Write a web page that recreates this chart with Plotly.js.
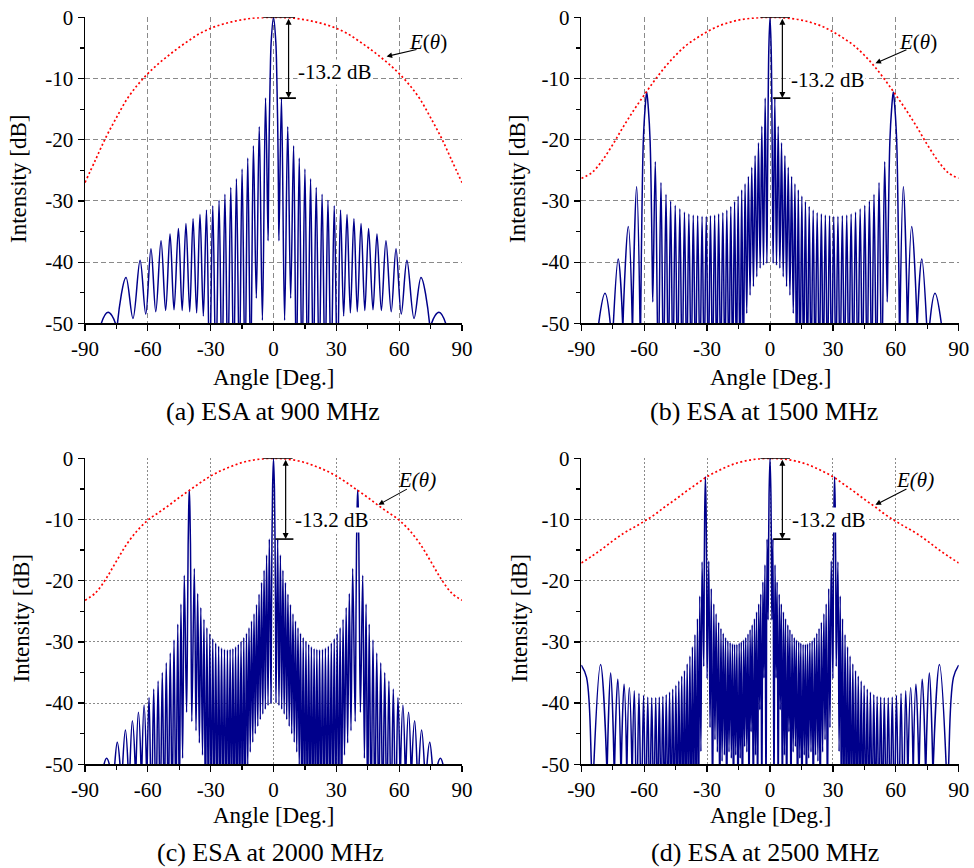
<!DOCTYPE html>
<html>
<head>
<meta charset="utf-8">
<script src="https://cdn.plot.ly/plotly-3.0.1.min.js"></script>
<style>
  html, body { margin: 0; padding: 0; background: #ffffff; }
  #chart { width: 974px; height: 868px; }
</style>
</head>
<body>
<div id="chart"></div>
<script>
// Array-factor intensity of the ESA, key points along each curve: [angle (deg), level (dB)].
// Lobe tops, nulls, lobe flanks and lobe feet at the -50 dB floor; the spline joins them.
const pattern900 = [
  [-90,-70],[-85.5,-62],[-82.2,-50],[-79.0,-48.2],[-75.5,-50],[-75.0,-60],[-74.5,-50],[-70.4,-42.5],
  [-67.1,-49.2],[-63.7,-39.7],[-61.0,-48.5],[-58.5,-37.8],[-56.2,-48.1],[-53.7,-36.5],[-51.5,-47.9],
  [-49.4,-35.4],[-47.5,-47.8],[-45.4,-34.5],[-43.6,-47.9],[-41.8,-33.7],[-40.0,-48.1],[-38.4,-32.9],
  [-36.7,-48.3],[-35.1,-32.2],[-33.5,-48.8],[-32.0,-31.5],[-30.5,-58],[-29.0,-30.8],[-27.5,-58],
  [-26.0,-29.9],[-24.6,-58],[-23.2,-28.9],[-21.8,-58],[-20.4,-27.8],[-19.0,-58],[-17.7,-26.4],
  [-16.3,-58],[-15.0,-24.8],[-13.6,-58],[-12.3,-23.0],[-10.9,-58],[-9.6,-21.0],[-8.2,-45.9],
  [-6.8,-17.9],[-5.3,-49.5],[-3.8,-13.2],[-2.6,-36.5],[-2.4,-30],[-2.1,-20],[-1.6,-10],[-1.1,-4],
  [0,0],
  [1.1,-4],[1.6,-10],[2.1,-20],[2.4,-30],[2.6,-36.5],[3.8,-13.2],[5.3,-49.5],[6.8,-17.9],[8.2,-45.9],
  [9.6,-21.0],[10.9,-58],[12.3,-23.0],[13.6,-58],[15.0,-24.8],[16.3,-58],[17.7,-26.4],[19.0,-58],
  [20.4,-27.8],[21.8,-58],[23.2,-28.9],[24.6,-58],[26.0,-29.9],[27.5,-58],[29.0,-30.8],[30.5,-58],
  [32.0,-31.5],[33.5,-48.8],[35.1,-32.2],[36.7,-48.3],[38.4,-32.9],[40.0,-48.1],[41.8,-33.7],
  [43.6,-47.9],[45.4,-34.5],[47.5,-47.8],[49.4,-35.4],[51.5,-47.9],[53.7,-36.5],[56.2,-48.1],
  [58.5,-37.8],[61.0,-48.5],[63.7,-39.7],[67.1,-49.2],[70.4,-42.5],[74.5,-50],[75.0,-60],[75.5,-50],
  [79.0,-48.2],[82.2,-50],[85.5,-62],[90,-70]
];

const pattern1500 = [
  [-90,-70],[-84.0,-62],[-81.7,-50],[-78.7,-45.1],[-76.2,-50],[-75.5,-60],[-74.7,-50],[-72.4,-39.5],
  [-70.3,-50],[-70.2,-60],[-70.1,-50],[-67.6,-34.2],[-65.7,-50],[-65.6,-60],[-65.5,-50],[-63.6,-27.7],
  [-62.0,-50],[-61.85,-60],[-61.7,-50],[-61.0,-30],[-60.4,-20],[-59.6,-15],[-58.8,-12.2],[-58.0,-15],
  [-57.2,-20],[-56.6,-30],[-56.2,-40],[-55.9,-46.5],[-54.7,-23.6],[-53.3,-58],[-52.0,-27.0],
  [-50.8,-58],[-49.6,-28.9],[-48.5,-58],[-47.4,-30.0],[-46.3,-58],[-45.2,-30.7],[-44.1,-58],[-43.0,-31.3],
  [-41.9,-58],[-40.8,-31.8],[-39.7,-58],[-38.7,-32.1],[-37.6,-58],[-36.6,-32.3],[-35.5,-58],[-34.5,-32.4],
  [-33.4,-58],[-32.4,-32.5],[-31.4,-58],[-30.4,-32.5],[-29.4,-58],[-28.4,-32.4],[-27.4,-58],[-26.4,-32.3],
  [-25.4,-58],[-24.5,-32.1],[-23.5,-58],[-22.5,-31.9],[-21.5,-58],[-20.6,-31.5],[-19.6,-58],[-18.7,-30.9],
  [-17.8,-58],[-16.9,-30.1],[-16.0,-58],[-15.2,-29.2],[-14.3,-58],[-13.5,-28.2],[-12.7,-58],[-11.9,-27.2],
  [-11.1,-48.4],[-10.3,-26.0],[-9.5,-45.4],[-8.7,-24.5],[-7.9,-44.0],[-7.1,-22.6],[-6.3,-42.4],
  [-5.5,-20.5],[-4.7,-41.0],[-3.9,-17.8],[-3.1,-40.5],[-2.3,-13.2],[-1.5,-40.2],[-1.2,-28],[-0.9,-15],
  [-0.55,-5],
  [0,0],
  [0.55,-5],[0.9,-15],[1.2,-28],[1.5,-40.2],[2.3,-13.2],[3.1,-40.5],[3.9,-17.8],[4.7,-41.0],[5.5,-20.5],
  [6.3,-42.4],[7.1,-22.6],[7.9,-44.0],[8.7,-24.5],[9.5,-45.4],[10.3,-26.0],[11.1,-48.4],[11.9,-27.2],
  [12.7,-58],[13.5,-28.2],[14.3,-58],[15.2,-29.2],[16.0,-58],[16.9,-30.1],[17.8,-58],[18.7,-30.9],
  [19.6,-58],[20.6,-31.5],[21.5,-58],[22.5,-31.9],[23.5,-58],[24.5,-32.1],[25.4,-58],[26.4,-32.3],
  [27.4,-58],[28.4,-32.4],[29.4,-58],[30.4,-32.5],[31.4,-58],[32.4,-32.5],[33.4,-58],[34.5,-32.4],
  [35.5,-58],[36.6,-32.3],[37.6,-58],[38.7,-32.1],[39.7,-58],[40.8,-31.8],[41.9,-58],[43.0,-31.3],
  [44.1,-58],[45.2,-30.7],[46.3,-58],[47.4,-30.0],[48.5,-58],[49.6,-28.9],[50.8,-58],[52.0,-27.0],
  [53.3,-58],[54.7,-23.6],[55.9,-46.5],[56.2,-40],[56.6,-30],[57.2,-20],[58.0,-15],[58.8,-12.2],
  [59.6,-15],[60.4,-20],[61.0,-30],[61.7,-50],[61.85,-60],[62.0,-50],[63.6,-27.7],
  [65.5,-50],[65.6,-60],[65.7,-50],[67.6,-34.2],[70.1,-50],[70.2,-60],[70.3,-50],[72.4,-39.5],
  [74.7,-50],[75.5,-60],[76.2,-50],[78.7,-45.1],[81.7,-50],[84.0,-62],[90,-70]
];

const pattern2000 = [
  [-90,-70],[-83.0,-62],[-80.9,-50],[-79.7,-49.0],[-78.4,-50],[-77.0,-60],[-75.8,-50],[-74.6,-46.4],
  [-73.3,-50],[-72.6,-60],[-72.0,-50],[-70.7,-44.4],[-69.5,-50],[-69.0,-60],[-68.5,-50],[-67.4,-42.9],
  [-66.1,-50],[-65.85,-60],[-65.6,-50],[-64.5,-41.5],[-63.3,-50],[-63.05,-60],[-62.8,-50],[-61.8,-40.3],
  [-60.7,-50],[-60.5,-60],[-60.3,-50],[-59.4,-39.1],[-58.3,-58],[-57.2,-37.7],[-56.15,-58],[-55.1,-36.4],
  [-54.1,-58],[-53.1,-35.0],[-52.15,-58],[-51.2,-33.4],[-50.25,-58],[-49.3,-31.8],[-48.4,-58],
  [-47.5,-29.7],[-46.6,-58],[-45.7,-27.1],[-44.95,-58],[-44.2,-23.8],[-43.4,-49.0],[-42.6,-19.1],
  [-41.5,-41.5],[-41.0,-25],[-40.75,-14],[-40.5,-8.5],[-40.2,-5.2],[-39.9,-8.5],[-39.65,-14],[-39.4,-25],
  [-39.0,-43.0],[-37.8,-18.0],[-37.0,-44.5],[-36.2,-22.1],[-35.4,-46.5],
  [-34.7,-24.4],[-33.9,-48.5],[-33.2,-26.3],[-32.5,-58],[-31.8,-27.7],[-31.1,-58],[-30.4,-28.7],
  [-29.7,-58],[-29.0,-29.5],[-28.3,-58],[-27.6,-30.2],[-26.9,-58],[-26.2,-30.7],[-25.5,-58],[-24.8,-31.0],
  [-24.1,-58],[-23.4,-31.2],[-22.7,-58],[-22.0,-31.3],[-21.35,-58],[-20.7,-31.2],[-20.05,-58],
  [-19.4,-31.1],[-18.75,-58],[-18.1,-30.8],[-17.45,-58],[-16.8,-30.4],[-16.15,-58],[-15.5,-29.9],
  [-14.85,-58],[-14.2,-29.3],[-13.55,-58],[-12.9,-28.6],[-12.3,-50.5],[-11.7,-27.7],[-11.1,-48.0],
  [-10.5,-26.6],[-9.9,-46.4],[-9.3,-25.4],[-8.7,-45.0],[-8.1,-23.9],[-7.5,-43.8],[-6.9,-22.2],
  [-6.3,-42.7],[-5.7,-20.3],[-5.1,-41.8],[-4.5,-18.3],[-3.9,-41.0],[-3.3,-15.8],[-2.6,-40.4],
  [-2.0,-13.2],[-1.2,-40.0],[-1.0,-28],[-0.75,-14],[-0.45,-5],
  [0,0],
  [0.45,-5],[0.75,-14],[1.0,-28],[1.2,-40.0],[2.0,-13.2],[2.6,-40.4],[3.3,-15.8],[3.9,-41.0],
  [4.5,-18.3],[5.1,-41.8],[5.7,-20.3],[6.3,-42.7],[6.9,-22.2],[7.5,-43.8],[8.1,-23.9],[8.7,-45.0],
  [9.3,-25.4],[9.9,-46.4],[10.5,-26.6],[11.1,-48.0],[11.7,-27.7],[12.3,-50.5],[12.9,-28.6],[13.55,-58],
  [14.2,-29.3],[14.85,-58],[15.5,-29.9],[16.15,-58],[16.8,-30.4],[17.45,-58],[18.1,-30.8],[18.75,-58],
  [19.4,-31.1],[20.05,-58],[20.7,-31.2],[21.35,-58],[22.0,-31.3],[22.7,-58],[23.4,-31.2],[24.1,-58],
  [24.8,-31.0],[25.5,-58],[26.2,-30.7],[26.9,-58],[27.6,-30.2],[28.3,-58],[29.0,-29.5],[29.7,-58],
  [30.4,-28.7],[31.1,-58],[31.8,-27.7],[32.5,-58],[33.2,-26.3],[33.9,-48.5],[34.7,-24.4],[35.4,-46.5],
  [36.2,-22.1],[37.0,-44.5],[37.8,-18.0],[39.0,-43.0],[39.4,-25],[39.65,-14],[39.9,-8.5],[40.2,-5.2],
  [40.5,-8.5],[40.75,-14],[41.0,-25],[41.5,-41.5],[42.6,-19.1],
  [43.4,-49.0],[44.2,-23.8],[44.95,-58],[45.7,-27.1],[46.6,-58],[47.5,-29.7],[48.4,-58],[49.3,-31.8],
  [50.25,-58],[51.2,-33.4],[52.15,-58],[53.1,-35.0],[54.1,-58],[55.1,-36.4],[56.15,-58],[57.2,-37.7],
  [58.3,-58],[59.4,-39.1],[60.3,-50],[60.5,-60],[60.7,-50],[61.8,-40.3],[62.8,-50],[63.05,-60],
  [63.3,-50],[64.5,-41.5],[65.6,-50],[65.85,-60],[66.1,-50],[67.4,-42.9],[68.5,-50],[69.0,-60],
  [69.5,-50],[70.7,-44.4],[72.0,-50],[72.6,-60],[73.3,-50],[74.6,-46.4],[75.8,-50],[77.0,-60],
  [78.4,-50],[79.7,-49.0],[80.9,-50],[83.0,-62],[90,-70]
];

const pattern2500 = [
  [-90,-33.8],[-87.5,-35.8],[-85.2,-50],[-84.6,-62],[-84.0,-50],[-80.8,-33.7],[-77.9,-50],[-77.75,-62],
  [-77.6,-50],[-76.0,-35.1],[-74.4,-50],[-74.25,-62],[-74.1,-50],[-72.6,-36.1],[-71.2,-50],[-71.05,-62],
  [-70.9,-50],[-69.6,-36.9],[-68.4,-50],[-68.3,-62],[-68.2,-50],[-67.1,-37.5],[-65.9,-50],[-65.75,-62],
  [-65.6,-50],[-64.7,-38.0],[-63.6,-58],[-62.5,-38.4],[-61.4,-58],[-60.3,-38.7],[-59.3,-58],[-58.3,-39.0],
  [-57.35,-58],[-56.4,-39.1],[-55.45,-58],[-54.5,-39.1],[-53.65,-58],[-52.8,-39.0],[-51.95,-58],
  [-51.1,-38.9],[-50.3,-58],[-49.5,-38.6],[-48.7,-58],[-47.9,-38.2],[-47.15,-58],[-46.4,-37.7],
  [-45.65,-58],[-44.9,-37.1],[-44.2,-58],[-43.5,-36.4],[-42.8,-58],[-42.1,-35.6],[-41.45,-58],
  [-40.8,-34.7],[-40.15,-58],[-39.5,-33.6],[-38.85,-58],[-38.2,-32.3],[-37.6,-58],[-37.0,-30.8],
  [-36.4,-58],[-35.8,-28.8],[-35.2,-58],[-34.6,-26.2],[-34.05,-58],[-33.5,-22.5],[-32.95,-47.9],
  [-32.4,-16.9],[-31.6,-34.0],[-31.35,-18],[-31.15,-9],[-30.8,-3.0],[-30.45,-9],[-30.25,-18],
  [-30.0,-36.0],[-29.2,-16.8],[-28.6,-44.0],[-28.0,-21.3],
  [-27.4,-58],[-26.8,-23.8],[-26.25,-46.0],[-25.7,-25.4],[-25.1,-48.0],[-24.5,-26.8],[-23.95,-58],
  [-23.4,-27.8],[-22.85,-49.5],[-22.3,-28.6],[-21.75,-48.5],[-21.2,-29.3],[-20.65,-58],[-20.1,-29.8],
  [-19.55,-48.0],[-19.0,-30.1],[-18.45,-49.0],[-17.9,-30.3],[-17.4,-58],[-16.9,-30.4],[-16.35,-48.5],
  [-15.8,-30.4],[-15.25,-58],[-14.7,-30.2],[-14.2,-49.0],[-13.7,-30.0],[-13.15,-58],[-12.6,-29.7],
  [-12.1,-47.1],[-11.6,-29.3],[-11.05,-48.0],[-10.5,-28.7],[-10.0,-58],[-9.5,-28.0],[-9.0,-44.7],
  [-8.5,-27.2],[-7.95,-58],[-7.4,-26.2],[-6.9,-48.5],[-6.4,-25.1],[-5.9,-58],[-5.4,-23.8],[-4.9,-41.1],
  [-4.4,-22.2],[-3.9,-58],[-3.4,-20.2],[-2.9,-35.9],[-2.4,-17.4],[-1.9,-58],[-1.4,-13.2],[-0.9,-26.4],
  [-0.7,-17],[-0.45,-6],
  [0,0],
  [0.45,-6],[0.7,-17],[0.9,-26.4],[1.4,-13.2],[1.9,-58],[2.4,-17.4],[2.9,-35.9],[3.4,-20.2],[3.9,-58],
  [4.4,-22.2],[4.9,-41.1],[5.4,-23.8],[5.9,-58],[6.4,-25.1],[6.9,-48.5],[7.4,-26.2],[7.95,-58],
  [8.5,-27.2],[9.0,-44.7],[9.5,-28.0],[10.0,-58],[10.5,-28.7],[11.05,-48.0],[11.6,-29.3],[12.1,-47.1],
  [12.6,-29.7],[13.15,-58],[13.7,-30.0],[14.2,-49.0],[14.7,-30.2],[15.25,-58],[15.8,-30.4],[16.35,-48.5],
  [16.9,-30.4],[17.4,-58],[17.9,-30.3],[18.45,-49.0],[19.0,-30.1],[19.55,-48.0],[20.1,-29.8],
  [20.65,-58],[21.2,-29.3],[21.75,-48.5],[22.3,-28.6],[22.85,-49.5],[23.4,-27.8],[23.95,-58],
  [24.5,-26.8],[25.1,-48.0],[25.7,-25.4],[26.25,-46.0],[26.8,-23.8],[27.4,-58],[28.0,-21.3],
  [28.6,-44.0],[29.2,-16.8],[30.0,-36.0],[30.25,-18],[30.45,-9],[30.8,-3.0],[31.15,-9],[31.35,-18],
  [31.6,-34.0],[32.4,-16.9],[32.95,-47.9],
  [33.5,-22.5],[34.05,-58],[34.6,-26.2],[35.2,-58],[35.8,-28.8],[36.4,-58],[37.0,-30.8],[37.6,-58],
  [38.2,-32.3],[38.85,-58],[39.5,-33.6],[40.15,-58],[40.8,-34.7],[41.45,-58],[42.1,-35.6],[42.8,-58],
  [43.5,-36.4],[44.2,-58],[44.9,-37.1],[45.65,-58],[46.4,-37.7],[47.15,-58],[47.9,-38.2],[48.7,-58],
  [49.5,-38.6],[50.3,-58],[51.1,-38.9],[51.95,-58],[52.8,-39.0],[53.65,-58],[54.5,-39.1],[55.45,-58],
  [56.4,-39.1],[57.35,-58],[58.3,-39.0],[59.3,-58],[60.3,-38.7],[61.4,-58],[62.5,-38.4],[63.6,-58],
  [64.7,-38.0],[65.6,-50],[65.75,-62],[65.9,-50],[67.1,-37.5],[68.2,-50],[68.3,-62],[68.4,-50],
  [69.6,-36.9],[70.9,-50],[71.05,-62],[71.2,-50],[72.6,-36.1],[74.1,-50],[74.25,-62],[74.4,-50],
  [76.0,-35.1],[77.6,-50],[77.75,-62],[77.9,-50],[80.8,-33.7],[84.0,-50],[84.6,-62],[85.2,-50],
  [87.5,-35.8],[90,-33.8]
];

// Element pattern E(theta) in dB, [angle (deg), level (dB)]
const element900 = [
  [-90,-27.0],[-85,-23.3],[-80,-19.6],[-75,-16.4],[-70,-13.4],[-65,-11.1],[-60,-9.2],[-55,-7.6],
  [-50,-6.2],[-45,-4.9],[-40,-3.7],[-35,-2.6],[-30,-1.8],[-25,-1.2],[-20,-0.75],[-15,-0.4],[-10,-0.15],
  [-5,-0.04],[0,0],[5,-0.04],[10,-0.15],[15,-0.4],[20,-0.75],[25,-1.2],[30,-1.8],[35,-2.6],[40,-3.7],
  [45,-4.9],[50,-6.2],[55,-7.6],[60,-9.2],[65,-11.1],[70,-13.4],[75,-16.4],[80,-19.6],[85,-23.3],[90,-27.0]
];
const element1500 = [
  [-90,-26.3],[-85,-25.4],[-80,-23.4],[-75,-20.8],[-70,-17.9],[-65,-15.2],[-60,-12.7],[-55,-10.3],
  [-50,-8.1],[-45,-6.2],[-40,-4.6],[-35,-3.4],[-30,-2.35],[-25,-1.5],[-20,-0.9],[-15,-0.45],[-10,-0.2],
  [-5,-0.05],[0,0],[5,-0.05],[10,-0.2],[15,-0.45],[20,-0.9],[25,-1.5],[30,-2.35],[35,-3.4],[40,-4.6],
  [45,-6.2],[50,-8.1],[55,-10.3],[60,-12.7],[65,-15.2],[70,-17.9],[75,-20.8],[80,-23.4],[85,-25.4],[90,-26.3]
];
const element2000 = [
  [-90,-23.2],[-85,-22.0],[-80,-19.7],[-75,-16.8],[-70,-14.0],[-65,-11.8],[-60,-10.1],[-55,-8.9],
  [-50,-7.7],[-45,-6.4],[-40,-5.2],[-35,-4.0],[-30,-2.9],[-25,-2.0],[-20,-1.3],[-15,-0.7],[-10,-0.3],
  [-5,-0.08],[0,0],[5,-0.08],[10,-0.3],[15,-0.7],[20,-1.3],[25,-2.0],[30,-2.9],[35,-4.0],[40,-5.2],
  [45,-6.4],[50,-7.7],[55,-8.9],[60,-10.1],[65,-11.8],[70,-14.0],[75,-16.8],[80,-19.7],[85,-22.0],[90,-23.2]
];
const element2500 = [
  [-90,-17.1],[-85,-16.0],[-80,-14.8],[-75,-13.5],[-70,-12.3],[-65,-11.3],[-60,-10.3],[-55,-9.2],
  [-50,-7.9],[-45,-6.7],[-40,-5.4],[-35,-4.2],[-30,-3.0],[-25,-2.1],[-20,-1.3],[-15,-0.7],[-10,-0.3],
  [-5,-0.08],[0,0],[5,-0.08],[10,-0.3],[15,-0.7],[20,-1.3],[25,-2.1],[30,-3.0],[35,-4.2],[40,-5.4],
  [45,-6.7],[50,-7.9],[55,-9.2],[60,-10.3],[65,-11.3],[70,-12.3],[75,-13.5],[80,-14.8],[85,-16.0],[90,-17.1]
];

const captions = ['(a) ESA at 900 MHz', '(b) ESA at 1500 MHz', '(c) ESA at 2000 MHz', '(d) ESA at 2500 MHz'];
const xTickVals = [-90, -60, -30, 0, 30, 60, 90];
const xTickText = ['-90', '-60', '-30', '0', '30', '60', '90'];
const yTickVals = [-50, -40, -30, -20, -10, 0];
const yTickText = ['-50', '-40', '-30', '-20', '-10', '0'];
const sidelobeDb = -13.2;   // first side-lobe level relative to the main beam

const FONT = "'Liberation Serif', 'Times New Roman', Times, serif";
const W = 974, H = 868;
const px = v => v / W;
const py = v => 1 - v / H;

// Per-panel placement (pixel frame of each plot area and the marker geometry in data units)
const panels = [
  { pattern: pattern900, element: element900, x0: 85, x1: 462, y0: 17.3, y1: 323.3, grid: '5px,3px',
    top: [-4.9, 10.3], low: [2.8, 10.7], arrowX: 7.2, lbl: [11.0, -9.0],
    eTxt: [73.9, -4.0], eFrom: [69.0, -5.2], eTo: [54.0, -6.4], eAllItalic: false,
    titleX: 273.5, titleY: 377, ylabX: 18, ylabY: 179, capX: 273, capY: 411 },
  { pattern: pattern1500, element: element1500, x0: 581.3, x1: 958.7, y0: 17.3, y1: 323.3, grid: '5px,3px',
    top: [-4.6, 9.5], low: [1.5, 9.7], arrowX: 5.9, lbl: [9.7, -10.2],
    eTxt: [70.7, -4.0], eFrom: [65.8, -5.2], eTo: [50.3, -7.5], eAllItalic: false,
    titleX: 770, titleY: 377, ylabX: 517, ylabY: 179, capX: 764, capY: 411 },
  { pattern: pattern2000, element: element2000, x0: 85, x1: 462, y0: 458.3, y1: 764.3, grid: '2px,2px',
    top: [-4.9, 9.1], low: [0.9, 9.5], arrowX: 5.8, lbl: [9.8, -10.0],
    eTxt: [68.7, -3.5], eFrom: [64.4, -4.9], eTo: [50.1, -7.6], eAllItalic: true,
    titleX: 273.5, titleY: 815, ylabX: 20.5, ylabY: 619, capX: 270, capY: 852 },
  { pattern: pattern2500, element: element2500, x0: 581.3, x1: 958.7, y0: 458.3, y1: 764.3, grid: '2px,2px',
    top: [-4.6, 9.5], low: [1.5, 9.7], arrowX: 5.9, lbl: [10.0, -10.1],
    eTxt: [69.0, -3.5], eFrom: [65.8, -4.9], eTo: [50.3, -7.6], eAllItalic: true,
    titleX: 770, titleY: 815, ylabX: 518.5, ylabY: 619, capX: 764.5, capY: 852 }
];

const traces = [];
const shapes = [];
const annotations = [];
const layout = {
  width: W, height: H,
  margin: { l: 0, r: 0, t: 0, b: 0 },
  paper_bgcolor: '#ffffff', plot_bgcolor: '#ffffff',
  showlegend: false,
  font: { family: FONT, color: '#000000' }
};

panels.forEach((p, i) => {
  const s = i === 0 ? '' : String(i + 1);
  const xa = 'x' + s, ya = 'y' + s;

  traces.push({
    type: 'scatter', mode: 'lines', xaxis: xa, yaxis: ya, hoverinfo: 'skip',
    x: p.pattern.map(d => d[0]), y: p.pattern.map(d => d[1]),
    line: { color: '#00008b', width: 1.5, shape: 'spline', smoothing: 1 }
  });
  traces.push({
    type: 'scatter', mode: 'lines', xaxis: xa, yaxis: ya, hoverinfo: 'skip',
    x: p.element.map(d => d[0]), y: p.element.map(d => d[1]),
    line: { color: '#ff0000', width: 1.7, dash: '2px,2.5px', shape: 'spline', smoothing: 1 }
  });

  layout['xaxis' + s] = {
    domain: [px(p.x0), px(p.x1)], anchor: ya, range: [-90, 90],
    tickmode: 'array', tickvals: xTickVals, ticktext: xTickText,
    ticks: 'outside', ticklen: 6, tickwidth: 1.2, tickcolor: '#000',
    minor: { tickmode: 'linear', tick0: -90, dtick: 15, ticks: 'outside', ticklen: 4, tickwidth: 1.2, tickcolor: '#000', showgrid: false },
    showline: true, linecolor: '#000', linewidth: 1.5,
    showgrid: true, gridcolor: '#8a8a8a', gridwidth: 1, griddash: p.grid,
    zeroline: false, fixedrange: true,
    tickfont: { family: FONT, size: 21, color: '#000' }
  };
  layout['yaxis' + s] = {
    domain: [py(p.y1), py(p.y0)], anchor: xa, range: [-50, 0],
    tickmode: 'array', tickvals: yTickVals, ticktext: yTickText,
    ticks: 'outside', ticklen: 6, tickwidth: 1.2, tickcolor: '#000',
    minor: { tickmode: 'linear', tick0: -50, dtick: 5, ticks: 'outside', ticklen: 4, tickwidth: 1.2, tickcolor: '#000', showgrid: false },
    showline: true, linecolor: '#000', linewidth: 1.5,
    showgrid: true, gridcolor: '#8a8a8a', gridwidth: 1, griddash: p.grid,
    zeroline: false, fixedrange: true,
    tickfont: { family: FONT, size: 21, color: '#000' }
  };

  // main-beam and side-lobe reference levels with the dimension arrow between them
  shapes.push({ type: 'line', xref: xa, yref: ya, x0: p.top[0], x1: p.top[1], y0: 0, y1: 0,
    line: { color: '#000', width: 1.6 } });
  shapes.push({ type: 'line', xref: xa, yref: ya, x0: p.low[0], x1: p.low[1], y0: sidelobeDb, y1: sidelobeDb,
    line: { color: '#000', width: 1.6 } });
  annotations.push({ xref: xa, yref: ya, axref: xa, ayref: ya,
    x: p.arrowX, y: sidelobeDb, ax: p.arrowX, ay: 0, text: '', showarrow: true,
    arrowhead: 2, startarrowhead: 2, arrowside: 'end+start', arrowsize: 1, arrowwidth: 1.2,
    arrowcolor: '#000', standoff: 0, startstandoff: 0 });
  annotations.push({ xref: xa, yref: ya, x: p.lbl[0], y: p.lbl[1], xanchor: 'left', yanchor: 'middle',
    text: sidelobeDb + ' dB', showarrow: false, bgcolor: '#ffffff', borderpad: 0,
    font: { family: FONT, size: 21, color: '#000' } });

  // element-pattern label and pointer
  annotations.push({ xref: xa, yref: ya, x: p.eTxt[0], y: p.eTxt[1], xanchor: 'center', yanchor: 'middle',
    text: p.eAllItalic ? '<i>E(θ)</i>' : '<i>E</i>(<i>θ</i>)', showarrow: false,
    font: { family: FONT, size: 21, color: '#000' } });
  annotations.push({ xref: xa, yref: ya, axref: xa, ayref: ya,
    x: p.eTo[0], y: p.eTo[1], ax: p.eFrom[0], ay: p.eFrom[1], text: '', showarrow: true,
    arrowhead: 2, arrowsize: 1, arrowwidth: 1.1, arrowcolor: '#000', standoff: 0 });

  // axis titles and panel caption
  annotations.push({ xref: 'paper', yref: 'paper', x: px(p.titleX), y: py(p.titleY),
    xanchor: 'center', yanchor: 'middle', text: 'Angle [Deg.]', showarrow: false,
    font: { family: FONT, size: 23, color: '#000' } });
  annotations.push({ xref: 'paper', yref: 'paper', x: px(p.ylabX), y: py(p.ylabY),
    xanchor: 'center', yanchor: 'middle', text: 'Intensity [dB]', textangle: -90, showarrow: false,
    font: { family: FONT, size: 23, color: '#000' } });
  annotations.push({ xref: 'paper', yref: 'paper', x: px(p.capX), y: py(p.capY),
    xanchor: 'center', yanchor: 'middle', text: captions[i], showarrow: false,
    font: { family: FONT, size: 26, color: '#000' } });
});

layout.shapes = shapes;
layout.annotations = annotations;

Plotly.newPlot('chart', traces, layout, { displayModeBar: false, staticPlot: true });
</script>
</body>
</html>
